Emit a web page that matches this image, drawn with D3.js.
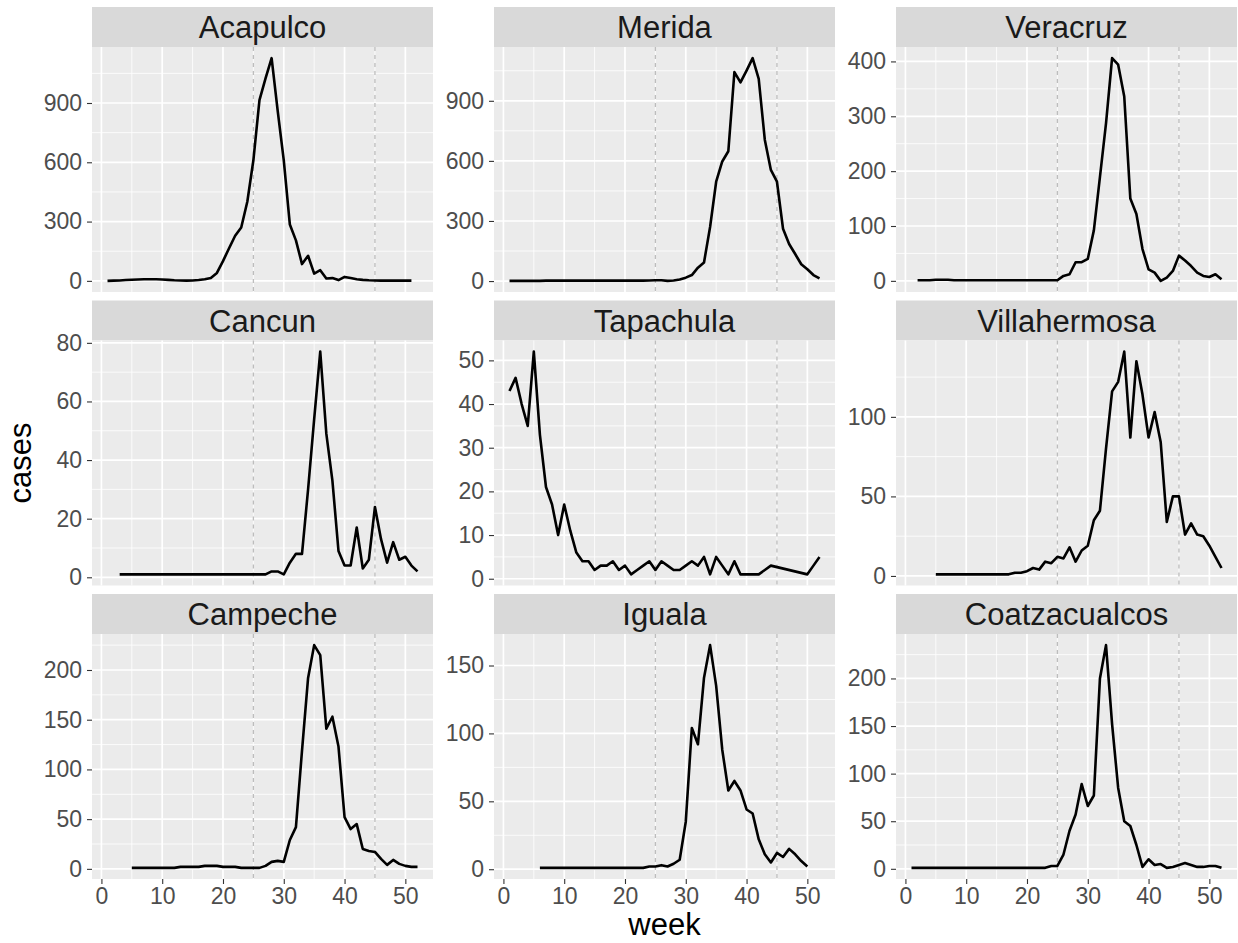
<!DOCTYPE html>
<html>
<head>
<meta charset="utf-8">
<title>Weekly cases by city</title>
<script src="https://d3js.org/d3.v7.min.js"></script>
<style>
  body { margin: 0; background: #fff; }
  svg { display: block; font-family: "Liberation Sans", Arial, Helvetica, sans-serif; }
</style>
</head>
<body>
<div id="chart"></div>
<script>
// facet order (row by row)
const cities = ["Acapulco", "Merida", "Veracruz",
                "Cancun", "Tapachula", "Villahermosa",
                "Campeche", "Iguala", "Coatzacualcos"];

// first week of each series
const startWeeks = [1, 1, 2, 3, 1, 5, 5, 6, 1];

// weekly cases (null = week missing)
const acapulcoCases = [0, 1, 2, 4, 6, 7, 8, 8, 8, 7, 5, 3, 2, 1, 2, 4, 8,
  15, 40, 100, 165, 228, 270, 400, 610, 915, 1025, 1127, 860, 610, 285, 205, 85, 127,
  37, 54, 12, 14, 4, 20, 14, 8, 5, 3, 2, 1, 1, 1, 1, 1, 1];
const meridaCases = [1, 1, 1, 1, 1, 1, 2, 2, 2, 2, 2, 2, 2, 2, 2, 2, 2, 2, 2, 2, 2, 2, 2, 3, 4, 4, 1,
  3, 8, 17, 30, 67, 93, 270, 496, 597, 648, 1043, 992, 1051, 1113, 1009, 706, 555, 496,
  261, 185, 135, 84, 59, 30, 13];
const veracruzCases = [1, 1, 1, 2, 2, 2, 1, 1, 1, 1, 1, 1, 1, 1, 1, 1, 1, 1, 1, 1, 1, 1, 1,
  1, 9, 12, 34, 34, 40, 92, 189, 287, 406, 394, 336, 150, 122, 58, 21, 15, 0, 6, 18,
  46, 37, 27, 15, 9, 7, 12, 3];
const cancunCases = [1, 1, 1, 1, 1, 1, 1, 1, 1, 1, 1, 1, 1, 1, 1, 1, 1, 1, 1, 1, 1, 1, 1, 1, 1,
  2, 2, 1, 5, 8, 8, 30, 54, 77, 49, 33, 9, 4, 4, 17, 3, 6, 24, 13, 5, 12, 6, 7, 4, 2];
const tapachulaCases = [43, 46, 40, 35, 52, 33, 21, 17, 10, 17, 11, 6, 4, 4, 2, 3,
  3, 4, 2, 3, 1, 2, 3, 4, 2, 4, 3, 2, 2, 3, 4, 3, 5, 1, 5, 3, 1, 4, 1, 1, 1, 1, 2, 3,
  null, null, null, null, null, 1, 3, 5];
const villahermosaCases = [1, 1, 1, 1, 1, 1, 1, 1, 1, 1, 1, 1, 1, 2, 2, 3,
  5, 4, 9, 8, 12, 11, 18, 9, 16, 19, 35, 41, 80, 116, 122, 141, 87, 135, 114, 87,
  103, 84, 34, 50, 50, 26, 33, 26, 25, 19, 12, 5];
const campecheCases = [1, 1, 1, 1, 1, 1, 1, 1, 2, 2, 2, 2, 3, 3, 3, 2, 2, 2, 1, 1, 1, 1,
  3, 7, 8, 7, 29, 42, 119, 192, 225, 215, 141, 153, 123, 52, 40, 45, 20, 18, 17, 10,
  4, 9, 5, 3, 2, 2];
const igualaCases = [1, 1, 1, 1, 1, 1, 1, 1, 1, 1, 1, 1, 1, 1, 1, 1, 1,
  1, 2, 2, 3, 2, 4, 7, 35, 104, 92, 141, 165, 135, 88, 58, 65, 58, 44, 41, 22, 11,
  5, 12, 9, 15, 11, 6, 2];
const coatzacualcosCases = [1, 1, 1, 1, 1, 1, 1, 1, 1, 1, 1, 1, 1, 1, 1, 1, 1, 1, 1, 1, 1, 1, 1,
  3, 3, 15, 40, 57, 89, 66, 77, 200, 235, 152, 85, 50, 45, 25, 2, 10, 4, 5, 1, 2,
  4, 6, 4, 2, 2, 3, 3, 1];

const seriesCases = [acapulcoCases, meridaCases, veracruzCases,
                     cancunCases, tapachulaCases, villahermosaCases,
                     campecheCases, igualaCases, coatzacualcosCases];

// axis breaks
const xBreaks = [0, 10, 20, 30, 40, 50];
const yBreaks = [
  [0, 300, 600, 900], [0, 300, 600, 900], [0, 100, 200, 300, 400],
  [0, 20, 40, 60, 80], [0, 10, 20, 30, 40, 50], [0, 50, 100],
  [0, 50, 100, 150, 200], [0, 50, 100, 150], [0, 50, 100, 150, 200]
];
// dashed reference weeks
const markerWeeks = [25, 45];

// ---- layout ----
const width = 1238, height = 943;
const panelW = 341, panelH = 245, stripH = 40;
const colLeft = [92, 494, 896];
const rowTop = [7, 300.5, 594];

const svg = d3.select("#chart").append("svg")
  .attr("width", width).attr("height", height)
  .attr("viewBox", [0, 0, width, height]);

// build points per city
const series = cities.map((name, i) => ({
  name,
  points: seriesCases[i]
    .map((v, k) => ({ week: startWeeks[i] + k, cases: v }))
    .filter(d => d.cases !== null)
}));

// shared x scale with ggplot's 5% expansion
const allWeeks = series.flatMap(s => s.points.map(d => d.week));
const [wMin, wMax] = d3.extent(allWeeks);
const wPad = (wMax - wMin) * 0.05;
const x = d3.scaleLinear().domain([wMin - wPad, wMax + wPad]).range([0, panelW]);

function minorBreaks(b, domain) {
  const step = b[1] - b[0];
  const ext = b.slice();
  if (domain[0] < ext[0]) ext.unshift(ext[0] - step);
  if (domain[1] > ext[ext.length - 1]) ext.push(ext[ext.length - 1] + step);
  const out = [];
  for (let i = 0; i < ext.length - 1; i++) {
    const m = (ext[i] + ext[i + 1]) / 2;
    if (m >= domain[0] && m <= domain[1]) out.push(m);
  }
  return out;
}

const xMinor = minorBreaks(xBreaks, x.domain());

series.forEach((s, i) => {
  const col = i % 3, row = Math.floor(i / 3);
  const left = colLeft[col], top = rowTop[row];
  const g = svg.append("g").attr("transform", `translate(${left},${top})`);

  // strip
  g.append("rect").attr("width", panelW).attr("height", stripH).attr("fill", "#D9D9D9");
  g.append("text")
    .attr("x", panelW / 2).attr("y", stripH / 2).attr("dy", "0.36em")
    .attr("text-anchor", "middle").attr("font-size", 31).attr("fill", "#1A1A1A")
    .text(s.name);

  const p = g.append("g").attr("transform", `translate(0,${stripH})`);

  // free y scale with 5% expansion
  const [cMin, cMax] = d3.extent(s.points, d => d.cases);
  const cPad = (cMax - cMin) * 0.05;
  const y = d3.scaleLinear().domain([cMin - cPad, cMax + cPad]).range([panelH, 0]);
  const yMinor = minorBreaks(yBreaks[i], y.domain());

  p.append("rect").attr("width", panelW).attr("height", panelH).attr("fill", "#EBEBEB");

  // minor grid
  p.append("g").selectAll("line").data(yMinor).join("line")
    .attr("x1", 0).attr("x2", panelW).attr("y1", d => y(d)).attr("y2", d => y(d))
    .attr("stroke", "#fff").attr("stroke-width", 0.8);
  p.append("g").selectAll("line").data(xMinor).join("line")
    .attr("y1", 0).attr("y2", panelH).attr("x1", d => x(d)).attr("x2", d => x(d))
    .attr("stroke", "#fff").attr("stroke-width", 0.8);
  // major grid
  p.append("g").selectAll("line").data(yBreaks[i]).join("line")
    .attr("x1", 0).attr("x2", panelW).attr("y1", d => y(d)).attr("y2", d => y(d))
    .attr("stroke", "#fff").attr("stroke-width", 1.7);
  p.append("g").selectAll("line").data(xBreaks).join("line")
    .attr("y1", 0).attr("y2", panelH).attr("x1", d => x(d)).attr("x2", d => x(d))
    .attr("stroke", "#fff").attr("stroke-width", 1.7);

  // dashed week markers
  p.append("g").selectAll("line").data(markerWeeks).join("line")
    .attr("y1", 0).attr("y2", panelH).attr("x1", d => x(d)).attr("x2", d => x(d))
    .attr("stroke", "#BDBDBD").attr("stroke-width", 1.3).attr("stroke-dasharray", "4,4");

  // series line
  const line = d3.line().x(d => x(d.week)).y(d => y(d.cases));
  p.append("path").datum(s.points)
    .attr("d", line).attr("fill", "none")
    .attr("stroke", "#000").attr("stroke-width", 2.6)
    .attr("stroke-linejoin", "round").attr("stroke-linecap", "butt");

  // y axis (every panel, free scales)
  const yAxis = d3.axisLeft(y).tickValues(yBreaks[i]).tickSize(5).tickPadding(5);
  p.append("g").call(yAxis).call(a => {
    a.select(".domain").remove();
    a.selectAll(".tick line").attr("stroke", "#333").attr("stroke-width", 1.1);
    a.selectAll(".tick text").attr("font-size", 23).attr("fill", "#4D4D4D")
      .attr("font-family", "Liberation Sans, Arial, sans-serif");
  });

  // x axis only on bottom row
  if (row === 2) {
    const xAxis = d3.axisBottom(x).tickValues(xBreaks).tickSize(5).tickPadding(4);
    p.append("g").attr("transform", `translate(0,${panelH})`).call(xAxis).call(a => {
      a.select(".domain").remove();
      a.selectAll(".tick line").attr("stroke", "#333").attr("stroke-width", 1.1);
      a.selectAll(".tick text").attr("font-size", 23).attr("fill", "#4D4D4D")
        .attr("font-family", "Liberation Sans, Arial, sans-serif");
    });
  }
});

// axis titles
const panelsTop = rowTop[0] + stripH, panelsBottom = rowTop[2] + stripH + panelH;
svg.append("text")
  .attr("transform", `translate(31,${(panelsTop + panelsBottom) / 2}) rotate(-90)`)
  .attr("text-anchor", "middle").attr("font-size", 31).attr("fill", "#000")
  .text("cases");
svg.append("text")
  .attr("x", (colLeft[0] + colLeft[2] + panelW) / 2).attr("y", 935)
  .attr("text-anchor", "middle").attr("font-size", 31).attr("fill", "#000")
  .text("week");
</script>
</body>
</html>
